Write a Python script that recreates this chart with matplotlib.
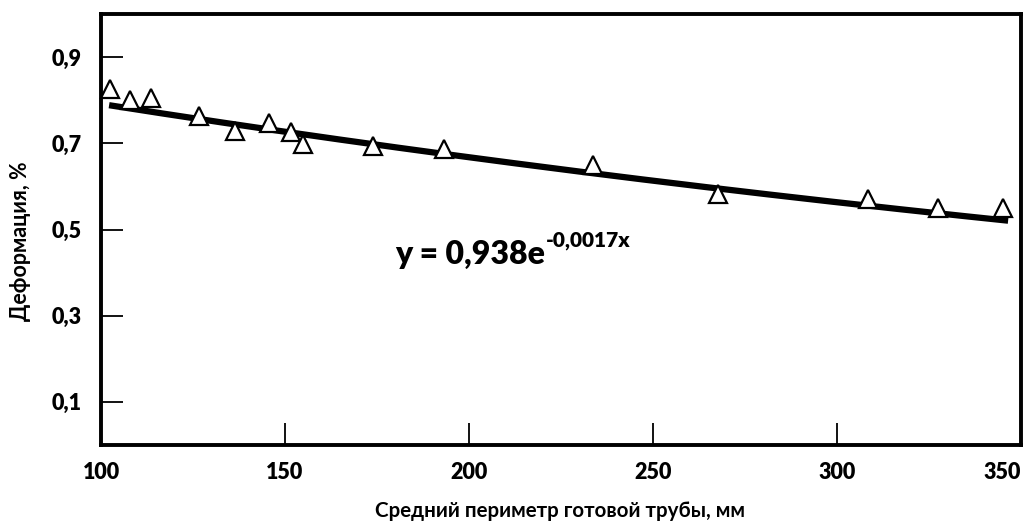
# plot.py
#
# Deformation vs mean perimeter of finished tube, with exponential trend line.
#

import numpy as np
import matplotlib
matplotlib.use("Agg")
import matplotlib.pyplot as plt

plt.rcParams['font.family'] = ['Lato', 'DejaVu Sans']

perimeter = [102.4, 107.9, 113.6, 126.6, 136.4, 145.7, 151.6, 154.9,
             173.9, 193.2, 233.7, 267.7, 308.4, 327.4, 345.2]
deformation = [0.826, 0.800, 0.806, 0.763, 0.728, 0.747, 0.727, 0.698,
               0.694, 0.686, 0.650, 0.582, 0.571, 0.551, 0.551]

# trend line y = a * exp(b * x)
fit_a = 0.938
fit_b = -0.0017
fit_range = (102.2, 346.5)

x_ticks = [100, 150, 200, 250, 300, 350]
y_ticks = [0.1, 0.3, 0.5, 0.7, 0.9]
y_tick_labels = ["0,1", "0,3", "0,5", "0,7", "0,9"]

W, H = 1027, 524
fig = plt.figure(figsize=(W / 100, H / 100), dpi=100)
ax = fig.add_axes([101 / W, 1 - 445 / H, 920 / W, 431 / H])

xs = np.linspace(fit_range[0], fit_range[1], 200)
ax.plot(xs, fit_a * np.exp(fit_b * xs), color="black", lw=4.5,
        solid_capstyle="butt", zorder=2)
ax.plot(perimeter, deformation, linestyle="none", marker="^", ms=13,
        mfc="white", mec="black", mew=1.6, zorder=3, clip_on=False)

ax.set_xlim(100, 350)
ax.set_ylim(0, 1.0)
ax.set_xticks(x_ticks)
ax.set_xticklabels([str(v) for v in x_ticks])
ax.set_yticks(y_ticks)
ax.set_yticklabels(y_tick_labels)

for side in ax.spines.values():
    side.set_linewidth(2.8)

ax.tick_params(axis="both", direction="in", length=16, width=1.3,
               labelsize=15.5)
ax.tick_params(axis="x", pad=12)
ax.tick_params(axis="y", pad=14)
for lab in ax.get_xticklabels() + ax.get_yticklabels():
    lab.set_fontweight("heavy")
xl = ax.get_xticklabels()
xl[-1].set_horizontalalignment("right")

# axis titles placed in figure pixels
fig.text(560 / W, 1 - 511 / H, "Средний периметр готовой трубы, мм",
         fontsize=14.8, fontweight="bold", ha="center", va="center")
fig.text(21 / W, 1 - 241 / H, "Деформация, %", fontsize=15.5,
         fontweight="bold", ha="center", va="center", rotation=90)

# trend equation with a real superscript
eq = fig.text(395 / W, 1 - 264 / H, "y = 0,938e", fontsize=23,
              fontweight="heavy", ha="left", va="baseline")
fig.canvas.draw()
bb = eq.get_window_extent(fig.canvas.get_renderer())
fig.text(bb.x1 / W + 1 / W, 1 - 247 / H, "-0,0017x", fontsize=15,
         fontweight="heavy", ha="left", va="baseline")

fig.savefig("out.png", dpi=100)
